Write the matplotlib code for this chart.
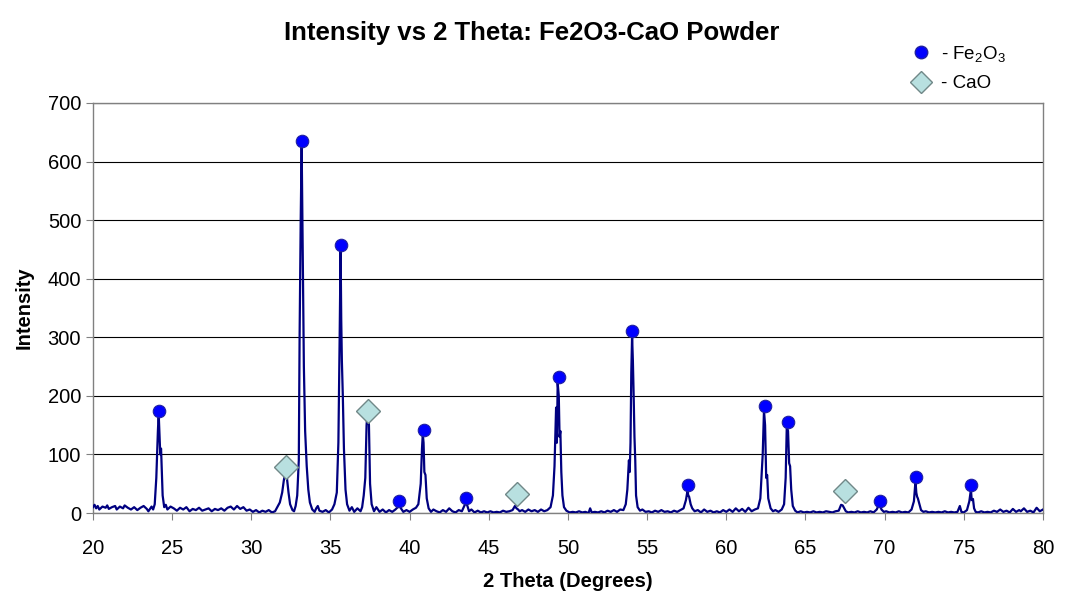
#!/usr/bin/env python3
"""XRD pattern of Fe2O3-CaO powder with phase markers."""
import matplotlib
matplotlib.use('Agg')
import matplotlib.pyplot as plt
from matplotlib.lines import Line2D

theta = [
    20.0, 20.1, 20.2, 20.3, 20.4, 20.6, 20.8, 20.9, 21.0, 21.2,
    21.4, 21.5, 21.7, 21.9, 22.0, 22.2, 22.4, 22.6, 22.8, 23.0,
    23.2, 23.4, 23.5, 23.7, 23.8, 23.9, 24.0, 24.1, 24.15, 24.25,
    24.3, 24.4, 24.5, 24.6, 24.7, 24.9, 25.1, 25.3, 25.5, 25.7,
    25.9, 26.1, 26.3, 26.5, 26.7, 26.9, 27.1, 27.3, 27.5, 27.7,
    27.9, 28.1, 28.3, 28.5, 28.7, 28.9, 29.1, 29.3, 29.5, 29.7,
    29.9, 30.1, 30.3, 30.5, 30.7, 30.9, 31.1, 31.3, 31.5, 31.6,
    31.8, 31.95, 32.05, 32.15, 32.25, 32.35, 32.45, 32.6, 32.7, 32.8,
    32.9, 33.0, 33.05, 33.12, 33.18, 33.22, 33.27, 33.32, 33.4, 33.5,
    33.6, 33.7, 33.85, 34.0, 34.1, 34.2, 34.3, 34.5, 34.7, 34.9,
    35.1, 35.25, 35.4, 35.5, 35.58, 35.64, 35.68, 35.72, 35.78, 35.85,
    35.95, 36.05, 36.2, 36.35, 36.5, 36.7, 36.9, 37.0, 37.1, 37.2,
    37.28, 37.33, 37.38, 37.43, 37.5, 37.6, 37.75, 37.9, 38.1, 38.3,
    38.5, 38.7, 38.9, 39.1, 39.25, 39.35, 39.45, 39.6, 39.8, 40.0,
    40.2, 40.4, 40.55, 40.7, 40.78, 40.83, 40.88, 40.93, 41.0, 41.08,
    41.2, 41.35, 41.5, 41.7, 41.9, 42.1, 42.3, 42.5, 42.7, 42.9,
    43.1, 43.3, 43.45, 43.55, 43.65, 43.75, 43.9, 44.1, 44.3, 44.5,
    44.7, 44.9, 45.1, 45.3, 45.5, 45.7, 45.9, 46.1, 46.3, 46.5,
    46.65, 46.75, 46.85, 46.95, 47.1, 47.3, 47.5, 47.7, 47.9, 48.1,
    48.3, 48.5, 48.7, 48.9, 49.05, 49.15, 49.25, 49.3, 49.35, 49.42,
    49.47, 49.52, 49.58, 49.65, 49.75, 49.9, 50.1, 50.3, 50.5, 50.7,
    50.9, 51.1, 51.3, 51.4, 51.5, 51.7, 51.9, 52.1, 52.3, 52.5,
    52.7, 52.9, 53.1, 53.3, 53.5, 53.65, 53.75, 53.85, 53.9, 53.95,
    54.0, 54.05, 54.1, 54.15, 54.2, 54.25, 54.3, 54.4, 54.55, 54.7,
    54.9, 55.1, 55.3, 55.5, 55.7, 55.9, 56.1, 56.3, 56.5, 56.7,
    56.9, 57.1, 57.3, 57.45, 57.55, 57.6, 57.65, 57.75, 57.85, 58.0,
    58.2, 58.4, 58.6, 58.8, 59.0, 59.2, 59.4, 59.6, 59.8, 60.0,
    60.2, 60.4, 60.6, 60.8, 61.0, 61.2, 61.4, 61.6, 61.8, 62.0,
    62.15, 62.3, 62.38, 62.45, 62.52, 62.58, 62.65, 62.8, 62.95, 63.1,
    63.3, 63.5, 63.65, 63.75, 63.82, 63.9, 63.97, 64.03, 64.1, 64.2,
    64.35, 64.5, 64.7, 64.9, 65.1, 65.3, 65.5, 65.7, 65.9, 66.1,
    66.3, 66.5, 66.7, 66.9, 67.1, 67.25, 67.35, 67.45, 67.55, 67.7,
    67.9, 68.1, 68.3, 68.5, 68.7, 68.9, 69.1, 69.3, 69.5, 69.6,
    69.7, 69.8, 69.95, 70.1, 70.3, 70.5, 70.7, 70.9, 71.1, 71.3,
    71.5, 71.7, 71.85, 71.95, 72.0, 72.05, 72.1, 72.2, 72.3, 72.45,
    72.6, 72.8, 73.0, 73.2, 73.4, 73.6, 73.8, 74.0, 74.2, 74.4,
    74.6, 74.75, 74.85, 75.0, 75.2, 75.35, 75.45, 75.5, 75.58, 75.65,
    75.75, 75.9, 76.1, 76.3, 76.5, 76.7, 76.9, 77.1, 77.3, 77.5,
    77.7, 77.9, 78.1, 78.3, 78.5, 78.6, 78.8, 79.0, 79.2, 79.4,
    79.6, 79.8, 80.0,
]
counts = [
    10, 14, 8, 12, 6, 11, 9, 13, 7, 10,
    12, 6, 11, 8, 13, 9, 6, 10, 5, 9,
    12, 7, 3, 11, 6, 15, 60, 140, 170, 100,
    110, 30, 10, 14, 6, 11, 8, 4, 9, 6,
    10, 3, 7, 5, 9, 4, 6, 8, 3, 7,
    5, 8, 4, 9, 11, 6, 12, 7, 10, 4,
    6, 2, 5, 1, 4, 2, 5, 1, 3, 8,
    18, 35, 55, 70, 60, 35, 15, 5, 3, 12,
    30, 90, 300, 500, 628, 520, 380, 250, 140, 80,
    40, 18, 6, 2, 8, 12, 4, 2, 5, 1,
    6, 15, 35, 120, 300, 452, 330, 260, 200, 110,
    40, 15, 4, 10, 2, 8, 3, 10, 30, 60,
    150, 168, 165, 150, 50, 15, 3, 10, 2, 6,
    1, 5, 2, 6, 10, 16, 8, 2, 5, 2,
    6, 9, 15, 50, 110, 135, 120, 70, 65, 25,
    8, 2, 6, 3, 1, 5, 2, 8, 3, 1,
    5, 3, 12, 18, 12, 3, 6, 1, 4, 1,
    3, 1, 3, 1, 2, 1, 4, 2, 3, 5,
    12, 8, 6, 3, 5, 2, 6, 3, 5, 2,
    6, 3, 5, 10, 30, 80, 180, 120, 222, 200,
    130, 140, 70, 30, 10, 4, 1, 2, 1, 3,
    1, 2, 0, 8, 1, 2, 1, 3, 1, 4,
    2, 5, 2, 6, 5, 15, 40, 90, 70, 120,
    240, 302, 260, 200, 130, 90, 30, 10, 4, 6,
    2, 3, 1, 4, 2, 5, 2, 3, 1, 4,
    2, 5, 8, 22, 38, 30, 28, 15, 8, 3,
    5, 1, 6, 2, 4, 1, 3, 1, 5, 2,
    6, 2, 8, 3, 7, 2, 9, 3, 6, 8,
    25, 100, 175, 150, 60, 65, 25, 8, 3, 5,
    2, 6, 15, 60, 148, 140, 85, 80, 40, 12,
    4, 1, 3, 1, 2, 1, 3, 1, 2, 1,
    3, 2, 1, 3, 4, 14, 13, 8, 3, 1,
    2, 1, 3, 1, 2, 1, 3, 1, 6, 12,
    14, 6, 2, 3, 1, 2, 1, 3, 1, 2,
    1, 6, 20, 55, 35, 28, 25, 15, 5, 2,
    3, 1, 2, 1, 2, 1, 3, 1, 2, 1,
    2, 12, 2, 1, 5, 20, 40, 22, 24, 8,
    2, 1, 3, 1, 2, 1, 4, 2, 6, 2,
    4, 1, 7, 2, 5, 3, 8, 2, 4, 1,
    9, 3, 6,
]

# phase identification markers
fe_theta = [24.2, 33.2, 35.65, 39.35, 40.9, 43.55, 49.45, 54.05, 57.6,
            62.45, 63.9, 69.7, 72.0, 75.45]
fe_int = [175, 635, 458, 20, 142, 25, 232, 310, 48, 182, 155, 20, 62, 48]
cao_theta = [32.2, 37.4, 46.75, 67.5]
cao_int = [78, 175, 32, 38]

x_ticks = [20, 25, 30, 35, 40, 45, 50, 55, 60, 65, 70, 75, 80]
y_ticks = [0, 100, 200, 300, 400, 500, 600, 700]

plt.rcParams['font.family'] = ['Liberation Sans', 'DejaVu Sans']
plt.rcParams['mathtext.fontset'] = 'custom'
plt.rcParams['mathtext.rm'] = 'Liberation Sans'
plt.rcParams['mathtext.it'] = 'Liberation Sans'

fig = plt.figure(figsize=(10.65, 5.98), dpi=100)
ax = fig.add_axes([0.0873, 0.1421, 0.892, 0.6857])

ax.plot(theta, counts, color='#000080', lw=1.6, zorder=3)
ax.plot(fe_theta, fe_int, 'o', ms=9, mfc='#0000FF', mec='#2020A0',
        mew=0.8, ls='none', zorder=4)
ax.plot(cao_theta, cao_int, 'D', ms=12, mfc='#B8E0E0', mec='#708888',
        mew=1.0, ls='none', zorder=4)

ax.set_xlim(20, 80)
ax.set_ylim(0, 700)
ax.set_xticks(x_ticks)
ax.set_yticks(y_ticks)
ax.tick_params(labelsize=14.5, length=5, color='#808080', direction='out')
ax.tick_params(axis='x', pad=14)
ax.yaxis.grid(True, color='black', lw=0.8)
ax.set_axisbelow(True)
for s in ax.spines.values():
    s.set_color('#808080')
    s.set_linewidth(1.0)

ax.set_xlabel('2 Theta (Degrees)', fontsize=14.5, fontweight='bold', labelpad=10)
ax.set_ylabel('Intensity', fontsize=14.5, fontweight='bold', labelpad=10)
fig.text(0.499, 0.945, 'Intensity vs 2 Theta: Fe2O3-CaO Powder',
         ha='center', va='center', fontsize=18.5, fontweight='bold')

handles = [
    Line2D([], [], marker='o', ls='none', ms=9, mfc='#0000FF', mec='#2020A0'),
    Line2D([], [], marker='D', ls='none', ms=11, mfc='#B8E0E0', mec='#708888'),
]
labels = ['- Fe$_2$O$_3$', '- CaO']
ax.legend(handles, labels, loc='upper left', bbox_to_anchor=(0.84, 0.955),
          bbox_transform=fig.transFigure, frameon=False, fontsize=13.5,
          handlelength=1.0, handletextpad=0.6, labelspacing=0.6)

plt.savefig('out.png', dpi=100)
